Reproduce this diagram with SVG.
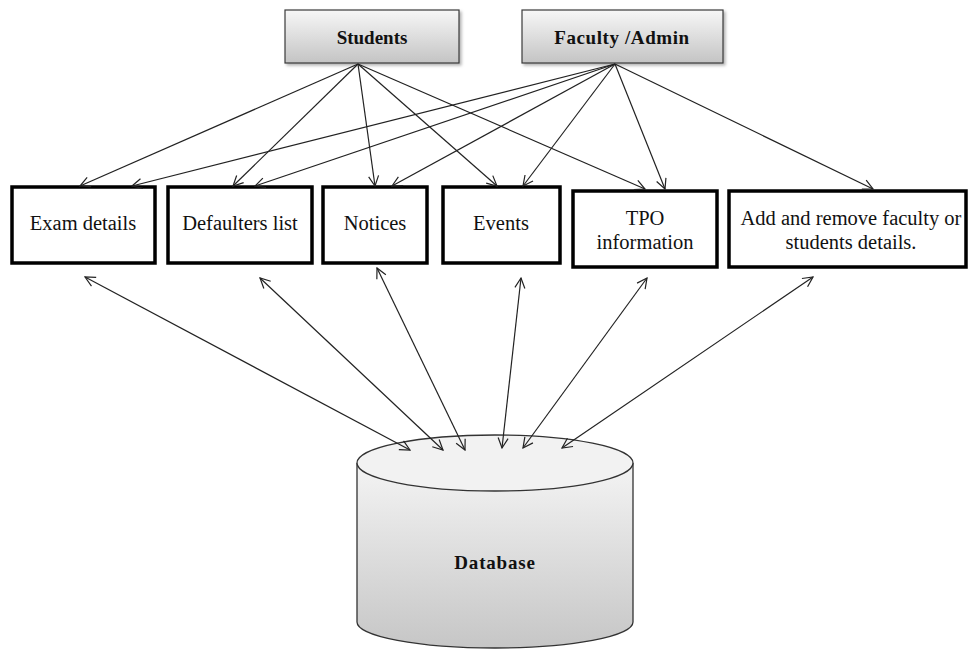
<svg xmlns="http://www.w3.org/2000/svg" width="968" height="657" viewBox="0 0 968 657">
<defs>
<linearGradient id="gBox" x1="0" y1="0" x2="0" y2="1">
<stop offset="0" stop-color="#f7f7f7"/>
<stop offset="1" stop-color="#c4c4c4"/>
</linearGradient>
<linearGradient id="gCyl" x1="0" y1="0" x2="0" y2="1">
<stop offset="0" stop-color="#f4f4f4"/>
<stop offset="1" stop-color="#c6c6c6"/>
</linearGradient>
<marker id="ah" viewBox="0 0 12 12" refX="11" refY="6" markerWidth="12" markerHeight="12" markerUnits="userSpaceOnUse" orient="auto-start-reverse">
<path d="M1,1 L11,6 L1,11" fill="none" stroke="#222" stroke-width="1.2"/>
</marker>
<filter id="sh" x="-10%" y="-10%" width="130%" height="140%">
<feDropShadow dx="2" dy="2" stdDeviation="1.5" flood-color="#000" flood-opacity="0.3"/>
</filter>
</defs>
<style>
.actor{fill:url(#gBox);stroke:#3a3a3a;stroke-width:1.2;filter:url(#sh)}
.mod{fill:#fff;stroke:#000;stroke-width:3.5}
.bt{font-family:"Liberation Serif","Times New Roman",serif;font-weight:bold;font-size:19px;fill:#111;text-anchor:middle}
.t{font-family:"Liberation Serif","Times New Roman",serif;font-size:20.5px;fill:#111;text-anchor:middle}
.c{stroke:#222;stroke-width:1.2;fill:none;marker-end:url(#ah)}
.cb{stroke:#222;stroke-width:1.2;fill:none;marker-end:url(#ah);marker-start:url(#ah)}
</style>
<rect width="968" height="657" fill="#fff"/>
<g id="students"><rect class="actor" x="285" y="10" width="174" height="53"/><text class="bt" x="372" y="44">Students</text></g>
<g id="faculty"><rect class="actor" x="522" y="10" width="201" height="53"/><text class="bt" x="622" y="44" letter-spacing="0.6">Faculty /Admin</text></g>
<g id="exam"><rect class="mod" x="12" y="187" width="143" height="76"/><text class="t" x="83" y="230">Exam details</text></g>
<g id="defaulters"><rect class="mod" x="168" y="187" width="144" height="76"/><text class="t" x="240" y="230">Defaulters list</text></g>
<g id="notices"><rect class="mod" x="323" y="187" width="104" height="76"/><text class="t" x="375" y="230">Notices</text></g>
<g id="events"><rect class="mod" x="443" y="187" width="117" height="76"/><text class="t" x="501" y="230">Events</text></g>
<g id="tpo"><rect class="mod" x="573" y="191" width="144" height="76"/><text class="t" x="645" y="225">TPO</text><text class="t" x="645" y="249">information</text></g>
<g id="addremove"><rect class="mod" x="729" y="191" width="237" height="76"/><text class="t" x="851" y="225">Add and remove faculty or</text><text class="t" x="851" y="249">students details.</text></g>
<g id="database">
<path d="M357,463 L357,622 A138,26 0 0 0 633,622 L633,463" fill="url(#gCyl)" stroke="#333" stroke-width="1.3"/>
<ellipse cx="495" cy="463" rx="138" ry="28" fill="#f2f2f2" stroke="#333" stroke-width="1.3"/>
<text class="bt" x="495" y="569" font-size="20" letter-spacing="0.8">Database</text>
</g>
<g id="connectors">
<line class="c" x1="358" y1="64" x2="80" y2="186"/>
<line class="c" x1="358" y1="64" x2="233" y2="186"/>
<line class="c" x1="358" y1="64" x2="375" y2="186"/>
<line class="c" x1="358" y1="64" x2="497" y2="186"/>
<line class="c" x1="358" y1="64" x2="645" y2="189"/>
<line class="c" x1="615" y1="64" x2="132" y2="186"/>
<line class="c" x1="615" y1="64" x2="255" y2="186"/>
<line class="c" x1="615" y1="64" x2="392" y2="186"/>
<line class="c" x1="615" y1="64" x2="523" y2="186"/>
<line class="c" x1="615" y1="64" x2="665" y2="189"/>
<line class="c" x1="615" y1="64" x2="873" y2="189"/>
<line class="cb" x1="85" y1="277" x2="410" y2="450"/>
<line class="cb" x1="260" y1="278" x2="443" y2="450"/>
<line class="cb" x1="377" y1="268" x2="465" y2="450"/>
<line class="cb" x1="521" y1="278" x2="502" y2="448"/>
<line class="cb" x1="647" y1="278" x2="523" y2="448"/>
<line class="cb" x1="813" y1="277" x2="562" y2="448"/>
</g>
</svg>
